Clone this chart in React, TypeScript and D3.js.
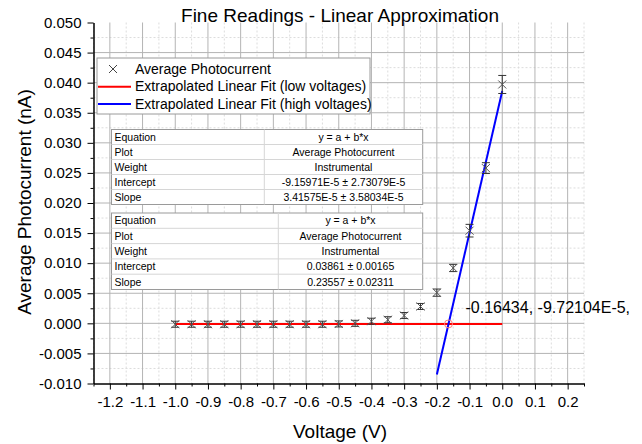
import { useEffect, useRef } from "react";
import * as d3 from "d3";

// measured points (V, nA) and their instrumental errors
const voltages = [-1.0, -0.95, -0.9, -0.85, -0.8, -0.75, -0.7, -0.65, -0.6, -0.55, -0.5, -0.45, -0.4, -0.35, -0.3, -0.25, -0.2, -0.15, -0.1, -0.05, 0.0];
const photocurrent = [-0.00015, -0.00015, -0.00015, -0.00015, -0.00015, -0.00015, -0.00015, -0.00015, -0.00015, -0.00015, -0.0001, 0.0, 0.00035, 0.0006, 0.0013, 0.0028, 0.0051, 0.0092, 0.0154, 0.0258, 0.0397];
const errors = [0.0005, 0.0005, 0.0005, 0.0005, 0.0005, 0.0005, 0.0005, 0.0005, 0.0005, 0.0005, 0.0005, 0.0005, 0.0005, 0.0005, 0.0005, 0.0005, 0.0006, 0.0006, 0.00105, 0.0009, 0.0015];

// fits: [intercept, slope], [from, to]
const lowFitCoef = [-9.15971e-5, 3.41575e-5];
const lowFitRange = [-1.0, 0.0];
const highFitCoef = [0.03861, 0.23557];
const highFitRange = [-0.2, 0.0];
const crossing = [-0.16434, -9.72104e-5];
const crossingLabel = "-0.16434, -9.72104E-5,";

const xMajorTicks = d3.range(-12, 3).map((i) => i / 10);
const xMinorTicks = d3.range(-25, 6).filter((i) => i % 2 !== 0).map((i) => i / 20);
const yMajorTicks = d3.range(-2, 11).map((i) => i * 0.005);
const yMinorTicks = d3.range(-4, 21).filter((i) => i % 2 !== 0).map((i) => i * 0.0025);

const legendLabels = ["Average Photocurrent", "Extrapolated Linear Fit (low voltages)", "Extrapolated Linear Fit (high voltages)"];

const tableKeys = ["Equation", "Plot", "Weight", "Intercept", "Slope"];
const lowTableValues = ["y = a + b*x", "Average Photocurrent", "Instrumental", "-9.15971E-5 \u00b1 2.73079E-5", "3.41575E-5 \u00b1 3.58034E-5"];
const highTableValues = ["y = a + b*x", "Average Photocurrent", "Instrumental", "0.03861 \u00b1 0.00165", "0.23557 \u00b1 0.02311"];

const FONT = "Arial, 'Liberation Sans', sans-serif";
const W = 642;
const H = 444;

const x = d3.scaleLinear().domain([-1.25, 0.25]).range([93.5, 584]);
const y = d3.scaleLinear().domain([-0.01, 0.05]).range([383.5, 22.5]);

function FitTable({ top, left, right, split, rowH, values }) {
  const h = rowH * tableKeys.length;
  return (
    <g fontFamily={FONT} fontSize={10.5} fill="#000">
      <rect x={left} y={top} width={right - left} height={h} fill="#fff" stroke="#9a9a9a" />
      {tableKeys.map((k, i) => (
        <g key={k}>
          {i > 0 && <line x1={left} x2={right} y1={top + i * rowH} y2={top + i * rowH} stroke="#d6d6d6" />}
          <text x={left + 3} y={top + i * rowH + rowH / 2} dy="0.35em">{k}</text>
          <text x={(split + right) / 2} y={top + i * rowH + rowH / 2} dy="0.35em" textAnchor="middle">{values[i]}</text>
        </g>
      ))}
      <line x1={split} x2={split} y1={top} y2={top + h} stroke="#d6d6d6" />
    </g>
  );
}

export default function App() {
  const xAxisRef = useRef(null);
  const xMinorRef = useRef(null);
  const yAxisRef = useRef(null);
  const yMinorRef = useRef(null);

  useEffect(() => {
    d3.select(xAxisRef.current)
      .call(d3.axisBottom(x).tickValues(xMajorTicks).tickFormat((v) => (+v).toFixed(1)).tickSize(6).tickSizeOuter(0).tickPadding(7))
      .call((g) => g.selectAll("text").attr("font-size", 15).attr("font-family", FONT).attr("fill", "#000"));
    d3.select(xMinorRef.current)
      .call(d3.axisBottom(x).tickValues(xMinorTicks).tickFormat(() => "").tickSize(3).tickSizeOuter(0));
    d3.select(yAxisRef.current)
      .call(d3.axisLeft(y).tickValues(yMajorTicks).tickFormat((v) => (+v).toFixed(3)).tickSize(6).tickSizeOuter(0).tickPadding(6))
      .call((g) => g.selectAll("text").attr("font-size", 15).attr("font-family", FONT).attr("fill", "#000"));
    d3.select(yMinorRef.current)
      .call(d3.axisLeft(y).tickValues(yMinorTicks).tickFormat(() => "").tickSize(3).tickSizeOuter(0));
  }, []);

  const [x0, x1] = x.range();
  const [y0, y1] = y.range();
  const fitLine = (coef) => d3.line().x((d) => x(d)).y((d) => y(coef[0] + coef[1] * d));
  const points = voltages.map((v, i) => ({ v, c: photocurrent[i], e: errors[i] }));

  return (
    <svg width={W} height={H} style={{ position: "absolute", left: 0, top: 0, background: "#fff" }}>
      {/* grid */}
      {xMinorTicks.map((t) => (
        <line key={"xm" + t} x1={x(t)} x2={x(t)} y1={y1} y2={y0} stroke="#dcdcdc" strokeDasharray="2,2" />
      ))}
      {yMinorTicks.map((t) => (
        <line key={"ym" + t} x1={x0} x2={x1} y1={y(t)} y2={y(t)} stroke="#dcdcdc" strokeDasharray="2,2" />
      ))}
      {xMajorTicks.map((t) => (
        <line key={"xg" + t} x1={x(t)} x2={x(t)} y1={y1} y2={y0} stroke="#b4b4b4" />
      ))}
      {yMajorTicks.filter((t) => t > -0.009 && t < 0.049).map((t) => (
        <line key={"yg" + t} x1={x0} x2={x1} y1={y(t)} y2={y(t)} stroke="#b4b4b4" />
      ))}

      {/* legend */}
      <g fontFamily={FONT} fontSize={14}>
        <rect x={97} y={58} width={273} height={56} fill="#fff" stroke="#9a9a9a" />
        <path d="M109,65L117,73M117,65L109,73" stroke="#444" />
        <line x1={98} x2={131} y1={86.7} y2={86.7} stroke="#ff0000" strokeWidth={2} />
        <line x1={98} x2={131} y1={104} y2={104} stroke="#0000ff" strokeWidth={2} />
        {legendLabels.map((l, i) => (
          <text key={l} x={135} y={69 + i * 17.5} dy="0.35em">{l}</text>
        ))}
      </g>

      <FitTable top={129.5} left={111.5} right={422.7} split={264.3} rowH={15} values={lowTableValues} />
      <FitTable top={213} left={111.5} right={422.7} split={278.3} rowH={15.3} values={highTableValues} />

      {/* fits */}
      <path d={fitLine(lowFitCoef)(lowFitRange)} fill="none" stroke="#ff0000" strokeWidth={2} />
      <path d={fitLine(highFitCoef)(highFitRange)} fill="none" stroke="#0000ff" strokeWidth={2} />

      {/* data with error bars */}
      <g stroke="#333" strokeWidth={1}>
        {points.map((p) => {
          const cx = x(p.v);
          const cy = y(p.c);
          const top = y(p.c + p.e);
          const bot = y(p.c - p.e);
          return (
            <g key={p.v}>
              <line x1={cx} x2={cx} y1={top} y2={bot} />
              <line x1={cx - 4} x2={cx + 4} y1={top} y2={top} />
              <line x1={cx - 4} x2={cx + 4} y1={bot} y2={bot} />
              <path d={`M${cx - 4},${cy - 4}L${cx + 4},${cy + 4}M${cx + 4},${cy - 4}L${cx - 4},${cy + 4}`} stroke="#555" />
            </g>
          );
        })}
      </g>

      {/* intersection */}
      <circle cx={x(crossing[0])} cy={y(crossing[1])} r={4} fill="none" stroke="#ff8080" />
      <text x={x(crossing[0]) + 17} y={313} fontFamily={FONT} fontSize={16}>{crossingLabel}</text>

      {/* axes */}
      <g ref={xMinorRef} transform={`translate(0,${y0})`} />
      <g ref={xAxisRef} transform={`translate(0,${y0})`} />
      <g ref={yMinorRef} transform={`translate(${x0},0)`} />
      <g ref={yAxisRef} transform={`translate(${x0},0)`} />

      {/* titles */}
      <text x={340} y={21.7} textAnchor="middle" fontFamily={FONT} fontSize={19}>Fine Readings - Linear Approximation</text>
      <text x={340} y={438} textAnchor="middle" fontFamily={FONT} fontSize={19}>Voltage (V)</text>
      <text transform="translate(31,202) rotate(-90)" textAnchor="middle" fontFamily={FONT} fontSize={19}>Average Photocurrent (nA)</text>
    </svg>
  );
}
